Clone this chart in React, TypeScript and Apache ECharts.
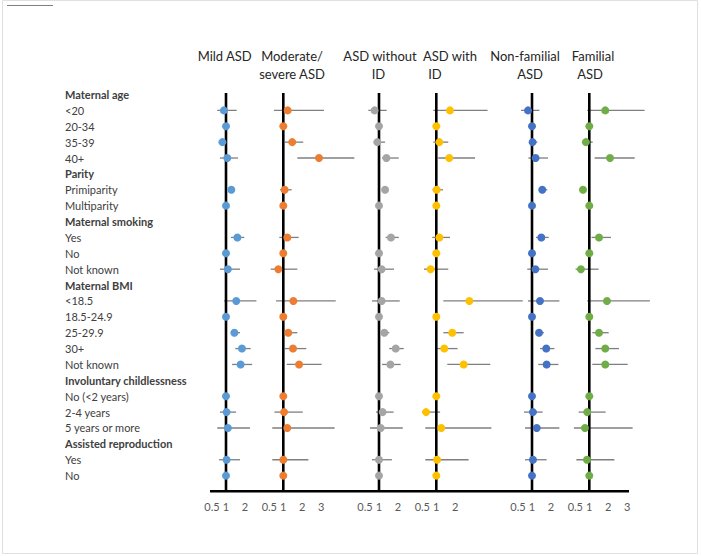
import React, { useEffect, useRef } from "react";
import * as echarts from "echarts";

// Row labels (top to bottom); group headers are bold
const rowLabels = [
  "Maternal age", "<20", "20-34", "35-39", "40+",
  "Parity", "Primiparity", "Multiparity",
  "Maternal smoking", "Yes", "No", "Not known",
  "Maternal BMI", "<18.5", "18.5-24.9", "25-29.9", "30+", "Not known",
  "Involuntary childlessness", "No (<2 years)", "2-4 years", "5 years or more",
  "Assisted reproduction", "Yes", "No",
];
const headerRows = [0, 5, 8, 12, 18, 22];

// Panel titles (each line separately)
const panelTitles = [
  ["Mild ASD"],
  ["Moderate/", "severe ASD"],
  ["ASD without", "ID"],
  ["ASD with", "ID"],
  ["Non-familial", "ASD"],
  ["Familial", "ASD"],
];

// Tick labels per panel
const panelTicks = [
  [0.5, 1, 2],
  [0.5, 1, 2, 3],
  [0.5, 1, 2],
  [0.5, 1, 2],
  [0.5, 1, 2],
  [0.5, 1, 2, 3],
];

const panelColors = ["#5B9BD5", "#ED7D31", "#A5A5A5", "#FFC000", "#4472C4", "#70AD47"];

// Odds ratios and confidence limits (null = header row / reference without CI)
const mildOR = [null, 0.89, 1, 0.81, 1.07, null, 1.28, 1, null, 1.6, 1, 1.1, null, 1.54, 1, 1.44, 1.84, 1.77, null, 1, 1.03, 1.1, null, 1.03, 1];
const mildLo = [null, 0.54, null, 0.74, 0.68, null, 1.2, null, null, 1.26, null, 0.68, null, 0.9, null, 1.25, 1.49, 1.32, null, null, 0.68, 0.54, null, 0.63, null];
const mildHi = [null, 1.56, null, 0.9, 1.63, null, 1.37, null, null, 1.96, null, 1.74, null, 2.6, null, 1.74, 2.3, 2.38, null, null, 1.53, 2.26, null, 1.74, null];

const modOR = [null, 1.23, 1, 1.47, 2.88, null, 1.07, 1, null, 1.21, 1, 0.74, null, 1.53, 1, 1.26, 1.51, 1.83, null, 1, 1.04, 1.21, null, 1.0, 1];
const modLo = [null, 0.51, null, 1.09, 1.74, null, 0.83, null, null, 0.79, null, 0.34, null, 0.62, null, 1.04, 1.09, 1.18, null, null, 0.53, 0.42, null, 0.42, null];
const modHi = [null, 3.14, null, 2.05, 4.74, null, 1.44, null, null, 1.81, null, 1.74, null, 3.76, null, 1.74, 2.21, 3.02, null, null, 2.02, 3.7, null, 2.32, null];

const noIdOR = [null, 0.77, 1, 0.91, 1.39, null, 1.32, 1, null, 1.63, 1, 1.14, null, 1.14, 1, 1.28, 1.88, 1.6, null, 1, 1.19, 1.09, null, 1.0, 1];
const noIdLo = [null, 0.44, null, 0.79, 1.16, null, 1.24, null, null, 1.35, null, 0.74, null, 0.63, null, 1.09, 1.54, 1.16, null, null, 0.84, 0.53, null, 0.63, null];
const noIdHi = [null, 1.4, null, 1.32, 2.04, null, 1.4, null, null, 2.04, null, 1.79, null, 2.09, null, 1.54, 2.3, 2.14, null, null, 1.77, 2.25, null, 1.68, null];

const withIdOR = [null, 1.72, 1, 1.16, 1.68, null, 1.02, 1, null, 1.16, 1, 0.7, null, 2.74, 1, 1.84, 1.42, 2.44, null, 1, 0.46, 1.26, null, 1.04, 1];
const withIdLo = [null, 0.84, null, 0.84, 1.1, null, 0.8, null, null, 0.79, null, 0.35, null, 1.37, null, 1.37, 1.05, 1.58, null, null, 0.25, 0.42, null, 0.42, null];
const withIdHi = [null, 3.7, null, 1.63, 3.04, null, 1.35, null, null, 1.72, null, 1.63, null, 5.55, null, 2.44, 2.12, 3.84, null, null, 1.2, 3.9, null, 2.7, null];

const nonFamOR = [null, 0.79, 1, 1.03, 1.19, null, 1.54, 1, null, 1.49, 1, 1.18, null, 1.42, 1, 1.37, 1.75, 1.77, null, 1, 1.05, 1.25, null, 1.05, 1];
const nonFamLo = [null, 0.42, null, 0.9, 0.81, null, 1.39, null, null, 1.21, null, 0.75, null, 0.79, null, 1.21, 1.42, 1.33, null, null, 0.58, 0.63, null, 0.63, null];
const nonFamHi = [null, 1.39, null, 1.28, 1.84, null, 1.81, null, null, 1.88, null, 1.84, null, 2.44, null, 1.63, 2.18, 2.39, null, null, 1.56, 2.44, null, 1.77, null];

const famOR = [null, 1.84, 1, 0.82, 2.09, null, 0.67, 1, null, 1.51, 1, 0.56, null, 1.93, 1, 1.51, 1.84, 1.84, null, 1, 0.89, 0.77, null, 0.88, 1];
const famLo = [null, 0.89, null, 0.62, 1.28, null, 0.6, null, null, 1.12, null, 0.28, null, 0.89, null, 1.16, 1.32, 1.16, null, null, 0.44, 0.19, null, 0.32, null];
const famHi = [null, 3.91, null, 1.18, 3.39, null, 0.75, null, null, 2.14, null, 1.49, null, 4.19, null, 2.02, 2.56, 3.02, null, null, 1.86, 3.28, null, 2.32, null];

const panelOR = [mildOR, modOR, noIdOR, withIdOR, nonFamOR, famOR];
const panelLo = [mildLo, modLo, noIdLo, withIdLo, nonFamLo, famLo];
const panelHi = [mildHi, modHi, noIdHi, withIdHi, nonFamHi, famHi];

// Layout
const refX = [226, 283.3, 379, 436.3, 532, 589.3]; // pixel x of OR = 1 in each panel
const titleCenters = [[224.7], [292, 292], [380, 378.5], [450, 435], [525, 530], [593, 590]];
const pxPerUnit = 19;
const rowTop = 94.5;
const rowStep = 15.88;
const yMin = -0.1;
const yMax = 25;
const FONT = "Lato, 'Open Sans', sans-serif";

export default function App() {
  const ref = useRef<HTMLDivElement>(null);

  useEffect(() => {
    if (!ref.current) return;
    const chart = echarts.init(ref.current, null, { renderer: "svg" });

    const gridTop = rowTop + yMin * rowStep;
    const gridHeight = (yMax - yMin) * rowStep;

    const grids: any[] = [];
    const xAxes: any[] = [];
    const yAxes: any[] = [];
    const series: any[] = [];

    panelOR.forEach((orArr, p) => {
      grids.push({
        left: refX[p] - pxPerUnit,
        width: 6 * pxPerUnit,
        top: gridTop,
        height: gridHeight,
        containLabel: false,
      });
      const ticks = panelTicks[p];
      xAxes.push({
        type: "value",
        gridIndex: p,
        min: 0,
        max: 6,
        interval: 0.5,
        axisLine: { show: false },
        axisTick: { show: false },
        splitLine: { show: false },
        axisLabel: {
          show: true,
          margin: 9,
          color: "#595959",
          fontFamily: FONT,
          fontSize: 11,
          showMinLabel: true,
          showMaxLabel: true,
          formatter: (v: number) => {
            if (!ticks.some((t) => Math.abs(t - v) < 1e-6)) return "";
            if (Math.abs(v - 0.5) < 1e-6) return "{s|0.5}";
            return "{n|" + v + "}";
          },
          rich: {
            s: { padding: [0, 9, 0, 0], color: "#595959", fontFamily: FONT, fontSize: 11 },
            n: { color: "#595959", fontFamily: FONT, fontSize: 11 },
          },
        },
      });
      yAxes.push({
        type: "value",
        gridIndex: p,
        min: yMin,
        max: yMax,
        inverse: true,
        show: false,
      });

      // confidence intervals
      const ciData: any[] = [];
      orArr.forEach((v, i) => {
        const lo = panelLo[p][i];
        const hi = panelHi[p][i];
        if (lo != null && hi != null) ciData.push([lo, hi, i]);
      });
      series.push({
        type: "custom",
        xAxisIndex: p,
        yAxisIndex: p,
        z: 1,
        silent: true,
        data: ciData,
        encode: { x: [0, 1], y: 2 },
        renderItem: (params: any, api: any) => {
          const a = api.coord([api.value(0), api.value(2)]);
          const b = api.coord([api.value(1), api.value(2)]);
          return {
            type: "line",
            shape: { x1: a[0], y1: a[1], x2: b[0], y2: b[1] },
            style: { stroke: "#7f7f7f", lineWidth: 1.3 },
          };
        },
      });

      // reference line at OR = 1
      series.push({
        type: "line",
        xAxisIndex: p,
        yAxisIndex: p,
        z: 2,
        silent: true,
        symbol: "none",
        data: [[1, yMin], [1, yMax]],
        lineStyle: { color: "#000", width: 2.6 },
      });

      // point estimates
      const pts: any[] = [];
      orArr.forEach((v, i) => {
        if (v != null) pts.push([v, i]);
      });
      series.push({
        type: "scatter",
        xAxisIndex: p,
        yAxisIndex: p,
        z: 3,
        symbol: "circle",
        symbolSize: 8,
        itemStyle: { color: panelColors[p], opacity: 1 },
        data: pts,
      });
    });

    // label grid (row labels on the left)
    const li = panelOR.length;
    grids.push({ left: 65, width: 20, top: rowTop - rowStep / 2, height: rowStep * rowLabels.length });
    xAxes.push({ type: "value", gridIndex: li, show: false });
    yAxes.push({
      type: "category",
      gridIndex: li,
      inverse: true,
      data: rowLabels.map((_, i) => String(i)),
      axisLine: { show: false },
      axisTick: { show: false },
      splitLine: { show: false },
      axisLabel: {
        inside: true,
        margin: 0,
        interval: 0,
        align: "left",
        formatter: (v: string) => {
          const i = Number(v);
          return headerRows.includes(i) ? "{b|" + rowLabels[i] + "}" : "{n|" + rowLabels[i] + "}";
        },
        rich: {
          b: { fontFamily: FONT, fontSize: 11, fontWeight: "bold", color: "#404040" },
          n: { fontFamily: FONT, fontSize: 11, color: "#404040" },
        },
      },
    });

    const graphics: any[] = [];
    panelTitles.forEach((lines, p) => {
      lines.forEach((t, k) => {
        graphics.push({
          type: "text",
          x: titleCenters[p][k],
          y: 56 + k * 18.3,
          style: {
            text: t,
            textAlign: "center",
            textVerticalAlign: "middle",
            fontFamily: FONT,
            fontSize: 13,
            fill: "#262626",
          },
        });
      });
    });
    // bottom axis line spanning all panels
    graphics.push({
      type: "line",
      shape: { x1: 210, y1: 491.3, x2: 629, y2: 491.3 },
      style: { stroke: "#000", lineWidth: 2.6 },
    });
    // small decorative line top-left
    graphics.push({
      type: "line",
      shape: { x1: 7, y1: 5.5, x2: 53, y2: 5.5 },
      style: { stroke: "#7f7f7f", lineWidth: 1 },
    });
    // faint chart-area border
    graphics.push({
      type: "rect",
      shape: { x: 2.5, y: 0.5, width: 695, height: 553 },
      style: { fill: "none", stroke: "#e0e0e0", lineWidth: 1 },
      z: -1,
    });

    chart.setOption({
      animation: false,
      backgroundColor: "#fff",
      grid: grids,
      xAxis: xAxes,
      yAxis: yAxes,
      series,
      graphic: graphics,
    });

    return () => chart.dispose();
  }, []);

  return (
    <div
      ref={ref}
      style={{ position: "fixed", left: 0, top: 0, width: 701, height: 556, background: "#fff" }}
    />
  );
}
